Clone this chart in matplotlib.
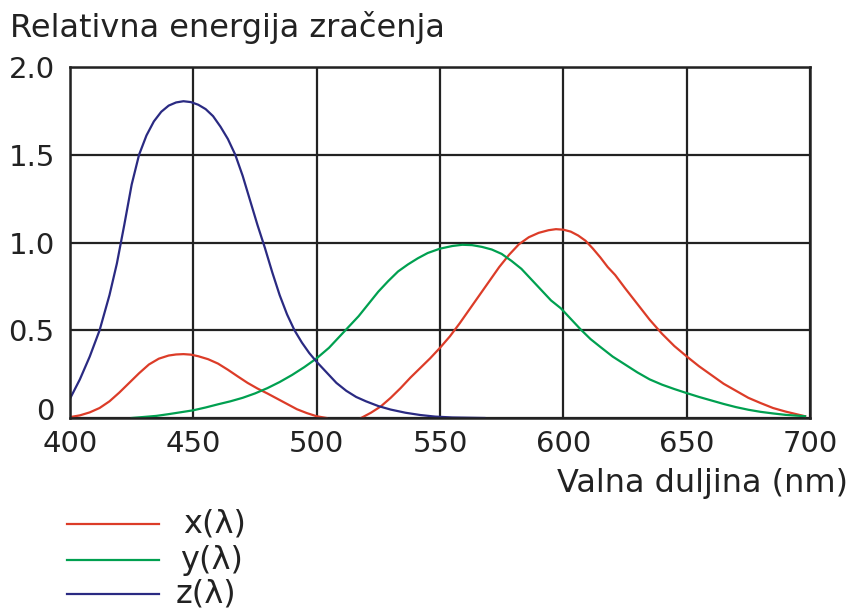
import numpy as np
import matplotlib
matplotlib.use('Agg')
import matplotlib.pyplot as plt
from matplotlib.lines import Line2D
from matplotlib.transforms import ScaledTranslation

# CIE colour matching functions (nm, relative value)
x_nm = [400, 404, 408, 412, 416, 420, 424, 428, 432, 436, 440, 443, 446, 449, 452, 456, 460, 464,
        468, 472, 476, 480, 484, 488, 492, 496, 500, 504]
x_val = [0.005, 0.015, 0.032, 0.057, 0.095, 0.145, 0.2, 0.255, 0.305, 0.338, 0.356, 0.362, 0.364,
         0.361, 0.352, 0.335, 0.31, 0.275, 0.237, 0.2, 0.168, 0.14, 0.11, 0.08, 0.05, 0.028, 0.01, 0.0]
x2_nm = [518, 522, 526, 530, 534, 538, 542, 546, 550, 554, 558, 562, 566, 570, 574, 578, 582, 586,
         590, 594, 597, 600, 603, 606, 609, 612, 615, 618, 621, 625, 630, 635, 640, 645, 650, 655,
         660, 665, 670, 675, 680, 685, 690, 695, 698]
x2_val = [0.0, 0.03, 0.066, 0.115, 0.17, 0.23, 0.285, 0.34, 0.40, 0.465, 0.54, 0.62, 0.70, 0.78,
          0.86, 0.93, 0.99, 1.03, 1.055, 1.07, 1.076, 1.073, 1.062, 1.04, 1.01, 0.965, 0.915, 0.86,
          0.815, 0.74, 0.65, 0.56, 0.48, 0.41, 0.351, 0.295, 0.245, 0.195, 0.155, 0.115, 0.085,
          0.057, 0.037, 0.02, 0.01]

y_nm = [425, 430, 435, 440, 445, 450, 455, 460, 465, 470, 475, 480, 485, 490, 495, 500, 505, 509,
        513, 517, 521, 525, 529, 533, 537, 541, 545, 550, 555, 559, 563, 567, 571, 575, 579, 583,
        587, 591, 595, 599, 603, 607, 611, 615, 620, 625, 630, 635, 640, 645, 650, 655, 660, 665,
        670, 675, 680, 685, 690, 695, 698]
y_val = [0.0, 0.006, 0.012, 0.022, 0.033, 0.044, 0.06, 0.078, 0.095, 0.115, 0.14, 0.17, 0.205,
         0.245, 0.29, 0.34, 0.40, 0.46, 0.52, 0.58, 0.65, 0.72, 0.78, 0.835, 0.875, 0.91, 0.94,
         0.965, 0.98, 0.987, 0.985, 0.975, 0.96, 0.935, 0.895, 0.85, 0.79, 0.73, 0.67, 0.625,
         0.565, 0.505, 0.45, 0.405, 0.35, 0.305, 0.26, 0.22, 0.19, 0.165, 0.142, 0.12, 0.10, 0.08,
         0.062, 0.047, 0.035, 0.026, 0.018, 0.013, 0.01]

z_nm = [400, 404, 408, 412, 416, 419, 422, 425, 428, 431, 434, 437, 440, 443, 446, 449, 452, 455,
        458, 461, 464, 467, 470, 473, 476, 479, 482, 485, 488, 491, 494, 497, 500, 504, 508, 512,
        516, 520, 525, 530, 536, 542, 548, 555, 568]
z_val = [0.11, 0.22, 0.35, 0.50, 0.70, 0.88, 1.10, 1.33, 1.50, 1.61, 1.69, 1.745, 1.78, 1.798,
         1.805, 1.80, 1.785, 1.76, 1.72, 1.66, 1.59, 1.50, 1.38, 1.24, 1.10, 0.97, 0.83, 0.70,
         0.59, 0.50, 0.43, 0.37, 0.32, 0.26, 0.20, 0.155, 0.12, 0.095, 0.068, 0.048, 0.03, 0.017,
         0.008, 0.003, 0.0]

xticks = [400, 450, 500, 550, 600, 650, 700]
yticks = [0, 0.5, 1.0, 1.5, 2.0]
ytick_labels = ['0', '0.5', '1.0', '1.5', '2.0']

RED = '#dc3c28'
GREEN = '#00a050'
BLUE = '#2a2a82'
INK = '#222222'

plt.rcParams['font.family'] = ['DejaVu Sans']

W, H = 853, 610
fig = plt.figure(figsize=(W / 100, H / 100), dpi=100)
ax = fig.add_axes([70 / W, 1 - 418 / H, 740 / W, 351 / H])

ax.plot(x_nm, x_val, color=RED, lw=1.6)
ax.plot(x2_nm, x2_val, color=RED, lw=1.6)
ax.plot(y_nm, y_val, color=GREEN, lw=1.6)
ax.plot(z_nm, z_val, color=BLUE, lw=1.6)

ax.set_xlim(400, 700)
ax.set_ylim(0, 2.0)
ax.set_xticks(xticks)
ax.set_yticks(yticks)
ax.set_yticklabels(ytick_labels)
ax.tick_params(length=0, labelsize=21, colors=INK)
ax.tick_params(axis='x', pad=9)
ax.tick_params(axis='y', pad=11)
# "0" sits a little above the axis line in the original
lbl0 = ax.yaxis.get_major_ticks()[0].label1
lbl0.set_transform(lbl0.get_transform() + ScaledTranslation(0, 0.09, fig.dpi_scale_trans))
ax.grid(True, color=INK, lw=1.6)
ax.set_axisbelow(True)
for s in ax.spines.values():
    s.set_color(INK)
    s.set_linewidth(1.8)

fig.text(10 / W, 1 - 37 / H, 'Relativna energija zračenja', fontsize=23,
         color=INK, va='baseline', ha='left')
fig.text(848 / W, 1 - 492 / H, 'Valna duljina (nm)', fontsize=23,
         color=INK, va='baseline', ha='right')

# legend drawn by hand below the plot
for col, lab, ypx, xt in [(RED, 'x(λ)', 524, 183), (GREEN, 'y(λ)', 560, 180), (BLUE, 'z(λ)', 594, 176)]:
    fig.add_artist(Line2D([67 / W, 159 / W], [1 - ypx / H, 1 - ypx / H], color=col, lw=1.6))
    fig.text(xt / W, 1 - ypx / H, lab, fontsize=23, color=INK, va='center', ha='left')

fig.savefig('out.png', dpi=100)
